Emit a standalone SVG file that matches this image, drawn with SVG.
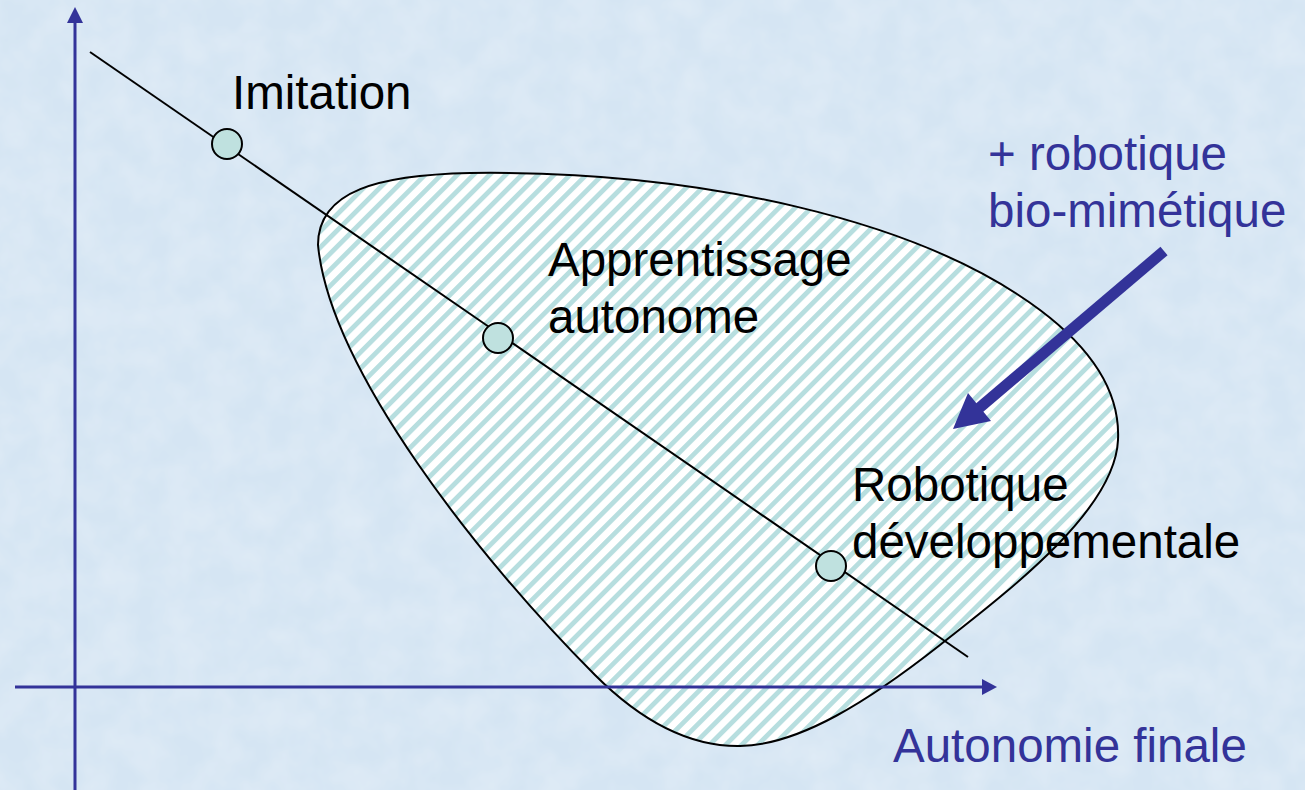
<svg xmlns="http://www.w3.org/2000/svg" width="1305" height="790" viewBox="0 0 1305 790">
<defs>
<style>
.lbl{font-family:"Liberation Sans",Arial,sans-serif;font-size:47.5px;fill:#000}
.blue{fill:#333399}
.axis{stroke:#333399;stroke-width:3;fill:none}
.node{fill:#bfe1df;stroke:#000;stroke-width:2}
</style>
<pattern id="hatch" width="11.4" height="11.4" patternUnits="userSpaceOnUse" patternTransform="rotate(45)">
<rect width="11.4" height="11.4" fill="#ffffff"/>
<rect width="4.8" height="11.4" fill="#b7dedf"/>
</pattern>
<filter id="tex" x="0" y="0" width="100%" height="100%">
<feTurbulence type="fractalNoise" baseFrequency="0.03" numOctaves="3" seed="4" result="n"/>
<feColorMatrix in="n" type="matrix" values="0 0 0 0 1  0 0 0 0 1  0 0 0 0 1  0 0 0 0.35 -0.1" result="w"/>
<feComposite in="w" in2="SourceGraphic" operator="over"/>
</filter>
</defs>
<rect width="1305" height="790" fill="#d5e5f3" filter="url(#tex)"/>
<g id="region">
<path d="M318,245 C318,190 380,175 470,173 C700,170 920,220 1040,310 C1100,355 1120,400 1118,440 C1115,510 1010,590 940,645 C870,700 800,745 740,746 C680,747 630,710 595,675 C480,560 330,370 318,245 Z" fill="url(#hatch)" stroke="#000" stroke-width="2"/>
</g>
<g id="connectors">
<line x1="90" y1="52" x2="968" y2="657" stroke="#000" stroke-width="2"/>
<line class="axis" x1="75" y1="790" x2="75" y2="20"/>
<polygon class="blue" points="75,7 67,23 83,23"/>
<line class="axis" x1="15" y1="687" x2="985" y2="687"/>
<polygon class="blue" points="997,687 982,679 982,695"/>
<line x1="1164" y1="251" x2="978" y2="409" stroke="#333399" stroke-width="11"/>
<polygon class="blue" points="953,429 968,393 991,421"/>
</g>
<g id="imitation">
<circle class="node" cx="227" cy="144" r="15"/>
<text class="lbl" x="232" y="109">Imitation</text>
</g>
<g id="apprentissage">
<circle class="node" cx="498" cy="338" r="15"/>
<text class="lbl" x="548" y="276">Apprentissage</text>
<text class="lbl" x="548" y="333">autonome</text>
</g>
<g id="robotique">
<circle class="node" cx="831" cy="566" r="15"/>
<text class="lbl" x="852" y="501">Robotique</text>
<text class="lbl" x="852" y="558">développementale</text>
</g>
<g id="biomimetique">
<text class="lbl blue" x="988" y="170">+ robotique</text>
<text class="lbl blue" x="988" y="227">bio-mimétique</text>
</g>
<g id="axis-label">
<text class="lbl blue" x="893" y="762">Autonomie finale</text>
</g>
</svg>
